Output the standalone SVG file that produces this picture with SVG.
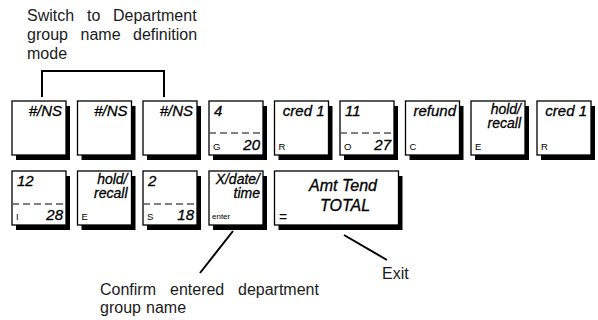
<svg xmlns="http://www.w3.org/2000/svg" width="598" height="320" viewBox="0 0 598 320">
<style>
.sh{fill:#000}
.k{fill:#fff;stroke:#000;stroke-width:1.3}
.d{stroke:#555;stroke-width:1.4;stroke-dasharray:7 4}
.l{font-family:"Liberation Sans",Arial,sans-serif;font-style:italic;font-size:15px;fill:#000;stroke:#000;stroke-width:0.3}
.m{font-size:14px}
.r{text-anchor:end}
.s{font-family:"Liberation Sans",Arial,sans-serif;font-size:9.5px;fill:#000}
.t{font-family:"Liberation Sans",Arial,sans-serif;font-size:16px;fill:#1a1a1a}
.c{fill:none;stroke:#000;stroke-width:2}
</style>
<rect width="598" height="320" fill="#fff"/>
<g id="caption-top">
<text class="t" x="27" y="21">Switch</text>
<text class="t" x="87" y="21">to</text>
<text class="t" x="113" y="21">Department</text>
<text class="t" x="27" y="40">group</text>
<text class="t" x="80.5" y="40">name</text>
<text class="t" x="133" y="40">definition</text>
<text class="t" x="27" y="59">mode</text>
</g>
<g id="connectors">
<polyline class="c" points="42,97 42,71 164,71 164,97"/>
<line class="c" x1="233" y1="231" x2="200" y2="273"/>
<line class="c" x1="344" y1="235" x2="387" y2="260"/>
</g>
<g id="key-ns1"><rect class="sh" x="16" y="106" width="54" height="54"/><rect class="k" x="12" y="101" width="54" height="54"/><text class="l r" x="62" y="116">#/NS</text></g>
<g id="key-ns2"><rect class="sh" x="81.5" y="106" width="54" height="54"/><rect class="k" x="77.5" y="101" width="54" height="54"/><text class="l r" x="127.5" y="116">#/NS</text></g>
<g id="key-ns3"><rect class="sh" x="147" y="106" width="54" height="54"/><rect class="k" x="143" y="101" width="54" height="54"/><text class="l r" x="193" y="116">#/NS</text></g>
<g id="key-4"><rect class="sh" x="213" y="106" width="54" height="54"/><rect class="k" x="209" y="101" width="54" height="54"/><line class="d" x1="209" y1="133" x2="263" y2="133"/><text class="l" x="214" y="116">4</text><text class="s" x="213" y="150">G</text><text class="l r" x="260" y="150">20</text></g>
<g id="key-cred1a"><rect class="sh" x="278.5" y="106" width="54" height="54"/><rect class="k" x="274.5" y="101" width="54" height="54"/><text class="l r" x="324.5" y="116">cred 1</text><text class="s" x="278.5" y="150">R</text></g>
<g id="key-11"><rect class="sh" x="344" y="106" width="54" height="54"/><rect class="k" x="340" y="101" width="54" height="54"/><line class="d" x1="340" y1="133" x2="394" y2="133"/><text class="l" x="345" y="116">11</text><text class="s" x="344" y="150">O</text><text class="l r" x="391" y="150">27</text></g>
<g id="key-refund"><rect class="sh" x="409.5" y="106" width="54" height="54"/><rect class="k" x="405.5" y="101" width="54" height="54"/><text class="l r" x="456" y="116">refund</text><text class="s" x="409.5" y="150">C</text></g>
<g id="key-hold1"><rect class="sh" x="475" y="106" width="54" height="54"/><rect class="k" x="471" y="101" width="54" height="54"/><text class="l m r" x="521" y="114">hold/</text><text class="l m r" x="521" y="128">recall</text><text class="s" x="475" y="150">E</text></g>
<g id="key-cred1b"><rect class="sh" x="541" y="106" width="54" height="54"/><rect class="k" x="537" y="101" width="54" height="54"/><text class="l r" x="587" y="116">cred 1</text><text class="s" x="541" y="150">R</text></g>
<g id="key-12"><rect class="sh" x="16" y="176" width="54" height="54"/><rect class="k" x="12" y="171" width="54" height="54"/><line class="d" x1="12" y1="204" x2="66" y2="204"/><text class="l" x="17" y="186">12</text><text class="s" x="16" y="220">I</text><text class="l r" x="63" y="220">28</text></g>
<g id="key-hold2"><rect class="sh" x="81.5" y="176" width="54" height="54"/><rect class="k" x="77.5" y="171" width="54" height="54"/><text class="l m r" x="127.5" y="184">hold/</text><text class="l m r" x="127.5" y="198">recall</text><text class="s" x="81.5" y="220">E</text></g>
<g id="key-2"><rect class="sh" x="147" y="176" width="54" height="54"/><rect class="k" x="143" y="171" width="54" height="54"/><line class="d" x1="143" y1="204" x2="197" y2="204"/><text class="l" x="148" y="186">2</text><text class="s" x="147" y="220">S</text><text class="l r" x="194" y="220">18</text></g>
<g id="key-xdate"><rect class="sh" x="213" y="176" width="54" height="54"/><rect class="k" x="209" y="171" width="54" height="54"/><text class="l m r" x="260" y="184">X/date/</text><text class="l m r" x="260" y="198">time</text><text class="s" x="212" y="219" style="font-size:8px">enter</text></g>
<g id="key-total"><rect class="sh" x="278.5" y="176" width="124" height="54"/><rect class="k" x="274.5" y="171" width="124" height="54"/><text class="l" x="343" y="191" text-anchor="middle" style="font-size:16px">Amt Tend</text><text class="l" x="345" y="211" text-anchor="middle" style="font-size:16px">TOTAL</text><text class="t" x="279" y="222" style="font-size:14px;fill:#000">=</text></g>
<g id="label-confirm">
<text class="t" x="100" y="295">Confirm</text>
<text class="t" x="170" y="295">entered</text>
<text class="t" x="238" y="295">department</text>
<text class="t" x="100" y="313">group</text>
<text class="t" x="146" y="313">name</text>
</g>
<g id="label-exit"><text class="t" x="382" y="279">Exit</text></g>
</svg>
